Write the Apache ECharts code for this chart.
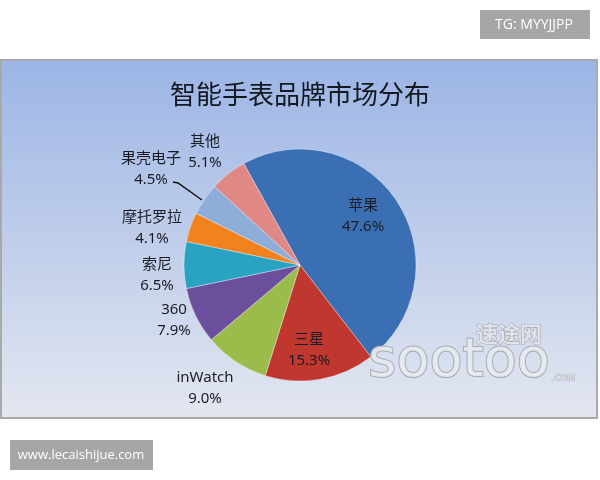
<!DOCTYPE html>
<html>
<head>
<meta charset="utf-8">
<script src="https://cdn.jsdelivr.net/npm/echarts@6/dist/echarts.min.js"></script>
<style>
  html, body { margin: 0; padding: 0; background: #ffffff; }
  #chart { width: 600px; height: 480px; }
</style>
</head>
<body>
<div id="chart"></div>
<script>
// ---- data ----
const titleText = '智能手表品牌市场分布';
const brands = ['苹果', '三星', 'inWatch', '360', '索尼', '摩托罗拉', '果壳电子', '其他'];
const shares = [47.6, 15.3, 9.0, 7.9, 6.5, 4.1, 4.5, 5.1];
const sliceColors = ['#3a6fb3', '#c0372f', '#9bbb4b', '#6c4f9c', '#2aa2c2', '#f1821f', '#8fadd9', '#e08886'];
const insideLabels = ['苹果', '三星'];
const leaderLabels = ['果壳电子'];

// ---- layout ----
const CX = 300, CY = 265, R = 116;
// label centres relative to the pie centre
const labelOffsets = {
  '苹果': [63, -49], '三星': [9, 85], 'inWatch': [-95, 123], '360': [-126, 55],
  '索尼': [-143, 10], '摩托罗拉': [-148, -37], '果壳电子': [-149, -96], '其他': [-95, -113]
};
const leaderPoints = { '果壳电子': [[-127, -83], [-122, -82], [-98, -65]] };

const chart = echarts.init(document.getElementById('chart'), null, { renderer: 'canvas' });

const pieData = brands.map((b, i) => {
  const item = { name: b, value: shares[i], itemStyle: { color: sliceColors[i] } };
  item.label = { position: insideLabels.includes(b) ? 'inside' : 'outside' };
  item.labelLine = { show: leaderLabels.includes(b) };
  return item;
});

const option = {
  animation: false,
  backgroundColor: '#ffffff',
  graphic: [
    { type: 'rect', z: -10, shape: { x: 1, y: 60, width: 596, height: 358 },
      style: { stroke: '#a9a9a9', lineWidth: 2,
        fill: { type: 'linear', x: 0, y: 0, x2: 0, y2: 1, colorStops: [
          { offset: 0, color: '#9cb5e6' }, { offset: 0.45, color: '#bccbea' }, { offset: 1, color: '#e3e7f0' } ] } } },
    { type: 'rect', shape: { x: 480, y: 10, width: 110, height: 29 }, style: { fill: '#a6a6a6' } },
    { type: 'text', x: 534, y: 25, style: { text: 'TG: MYYJJPP', fill: '#ffffff', font: '14px "Open Sans", sans-serif', align: 'center', verticalAlign: 'middle' } },
    { type: 'rect', shape: { x: 10, y: 440, width: 143, height: 30 }, style: { fill: '#a6a6a6' } },
    { type: 'text', x: 81, y: 455, style: { text: 'www.lecaishijue.com', fill: '#ffffff', font: '13px "Open Sans", sans-serif', align: 'center', verticalAlign: 'middle' } },
    { type: 'text', z: 5, x: 509, y: 334, style: { text: '速途网', fill: 'rgba(226,229,235,0.9)', stroke: '#a4a8b0', lineWidth: 1, font: 'bold 22px "Noto Sans CJK SC"', align: 'center', verticalAlign: 'middle' } },
    { type: 'text', z: 5, x: 459, y: 362, style: { text: 'sootoo', fill: 'rgba(232,235,240,0.9)', stroke: '#a7abb3', lineWidth: 2, font: '54px "DejaVu Sans"', align: 'center', verticalAlign: 'middle' } },
    { type: 'text', z: 5, x: 563, y: 379, style: { text: '.COM', fill: '#d6d9df', stroke: '#a7abb3', lineWidth: 0.6, font: 'bold 8px "DejaVu Sans"', align: 'center', verticalAlign: 'middle' } }
  ],
  title: {
    text: titleText, left: 'center', top: 76,
    textStyle: { fontFamily: 'Noto Sans CJK SC', fontSize: 26, fontWeight: 'normal', color: '#141820' }
  },
  series: [{
    type: 'pie',
    center: [CX, CY],
    radius: R,
    startAngle: 119,
    clockwise: true,
    avoidLabelOverlap: false,
    itemStyle: { borderColor: 'rgba(255,255,255,0.35)', borderWidth: 1 },
    label: {
      show: true,
      formatter: p => p.name + '\n' + p.percent.toFixed(1) + '%',
      fontFamily: '"Noto Sans", "Noto Sans CJK SC"',
      fontSize: 15, lineHeight: 21, color: '#1c1c24', align: 'center'
    },
    labelLine: { show: false, lineStyle: { color: '#111111', width: 1.5 } },
    labelLayout: function (params) {
      const name = brands[params.dataIndex];
      const off = labelOffsets[name];
      const res = { x: CX + off[0], y: CY + off[1], align: 'center', verticalAlign: 'middle' };
      if (leaderPoints[name]) {
        res.labelLinePoints = leaderPoints[name].map(pt => [CX + pt[0], CY + pt[1]]);
      }
      return res;
    },
    emphasis: { disabled: true },
    data: pieData
  }]
};
chart.setOption(option);
</script>
</body>
</html>
